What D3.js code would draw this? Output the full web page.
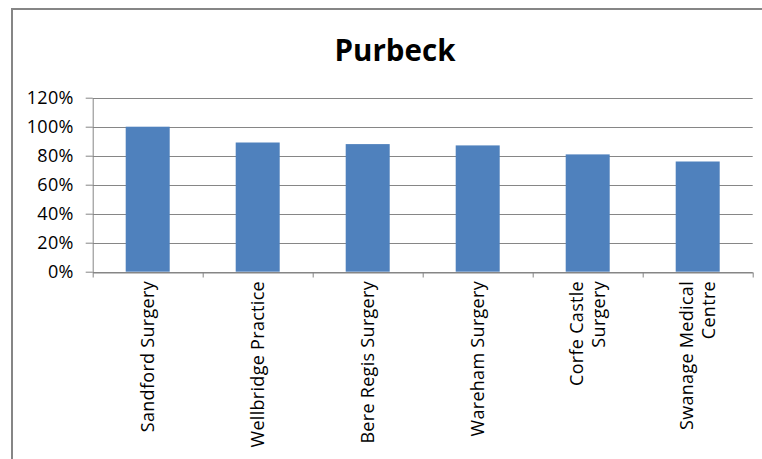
<!DOCTYPE html>
<html>
<head>
<meta charset="utf-8">
<script src="https://cdn.jsdelivr.net/npm/d3@7"></script>
<style>
  html, body { margin: 0; padding: 0; background: #fff; }
  svg text { font-family: "Open Sans", sans-serif; fill: #000; }
</style>
</head>
<body>
<svg id="chart" width="762" height="459"></svg>
<script>
/*
** Data
*/
var title = "Purbeck"
  , practices = [
        ["Sandford Surgery"]
      , ["Wellbridge Practice"]
      , ["Bere Regis Surgery"]
      , ["Wareham Surgery"]
      , ["Corfe Castle", "Surgery"]
      , ["Swanage Medical", "Centre"]
    ]
  , rates = [1.00, 0.891, 0.88, 0.871, 0.809, 0.76]
  , yTicks = [0, 0.2, 0.4, 0.6, 0.8, 1.0, 1.2]
;

/*
** Layout
*/
var svg = d3.select("#chart")
  , plotLeft = 92.7
  , plotRight = 752.7
  , plotTop = 97.7
  , plotBottom = 271.7
  , gridColor = "#868686"
  , barColor = "#4f81bd"
  , fontSize = 18
  , lineHeight = 22.5
;

var x = d3.scaleBand()
      .domain(d3.range(practices.length))
      .range([plotLeft, plotRight])
      .paddingInner(0.6)
      .paddingOuter(0.3)
  , xEdges = d3.scaleLinear()
      .domain([0, practices.length])
      .range([plotLeft, plotRight])
  , y = d3.scaleLinear()
      .domain([0, 1.2])
      .range([plotBottom, plotTop])
;

// chart border
svg.append("rect")
    .attr("x", 12)
    .attr("y", 9)
    .attr("width", 820)
    .attr("height", 520)
    .attr("fill", "#fff")
    .attr("stroke", gridColor)
    .attr("stroke-width", 2)
;

// title
svg.append("text")
    .attr("x", 395)
    .attr("y", 60.5)
    .attr("text-anchor", "middle")
    .style("font-size", "29.5px")
    .style("font-weight", "bold")
    .text(title)
;

// gridlines
svg.append("g")
  .selectAll("line")
    .data(yTicks)
  .enter().append("line")
    .attr("x1", plotLeft)
    .attr("x2", plotRight)
    .attr("y1", function(d) { return Math.round(y(d)) + 0.5; })
    .attr("y2", function(d) { return Math.round(y(d)) + 0.5; })
    .attr("stroke", gridColor)
    .attr("stroke-width", 1)
;

// bars
svg.append("g")
  .selectAll("rect")
    .data(rates)
  .enter().append("rect")
    .attr("x", function(d, i) { return x(i); })
    .attr("width", x.bandwidth())
    .attr("y", function(d) { return y(d); })
    .attr("height", function(d) { return y(0) - y(d); })
    .attr("fill", barColor)
;

// y axis
var yAxis = d3.axisLeft(y)
      .tickValues(yTicks)
      .tickFormat(d3.format(".0%"))
      .tickSize(7)
      .tickSizeOuter(0)
      .tickPadding(12)
;
svg.append("g")
    .attr("transform", "translate(" + plotLeft + ",0)")
    .call(yAxis)
    .call(function(g) {
        g.selectAll("path, line").attr("stroke", gridColor);
        g.selectAll("text")
            .attr("fill", "#000")
            .style("font-size", fontSize + "px")
            .style("letter-spacing", "0.3px")
            .style("font-family", "'Open Sans', sans-serif");
      })
;

// x axis (ticks between categories)
var xAxis = d3.axisBottom(xEdges)
      .tickValues(d3.range(practices.length + 1))
      .tickFormat("")
      .tickSize(5)
      .tickSizeOuter(0)
;
svg.append("g")
    .attr("transform", "translate(0," + (Math.round(y(0)) + 0.5) + ")")
    .call(xAxis)
    .call(function(g) { g.selectAll("path, line").attr("stroke", gridColor); })
;

// category labels, rotated
svg.append("g")
  .selectAll("text")
    .data(practices)
  .enter().append("text")
    .attr("transform", function(d, i) {
        return "translate(" + (x(i) + x.bandwidth() / 2) + ",281) rotate(-90)";
      })
    .attr("text-anchor", "end")
    .style("font-size", fontSize + "px")
    .style("letter-spacing", "0.3px")
    .each(function(d) {
        var self = d3.select(this)
          , off = -(d.length - 1) * lineHeight / 2
        ;
        d.forEach(function(line, k) {
            self.append("tspan")
                .attr("x", 0)
                .attr("y", off + k * lineHeight)
                .attr("dy", "0.35em")
                .text(line);
          });
      })
;
</script>
</body>
</html>
